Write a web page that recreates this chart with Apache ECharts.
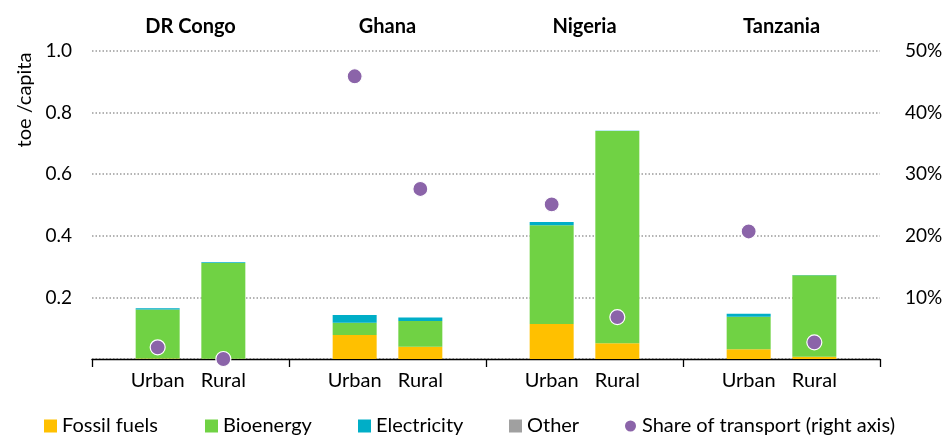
<!DOCTYPE html>
<html>
<head>
<meta charset="utf-8">
<script src="https://cdn.jsdelivr.net/npm/echarts@6/dist/echarts.min.js"></script>
<style>
  html, body { margin: 0; padding: 0; background: #fff; }
  #chart { width: 948px; height: 440px; }
</style>
</head>
<body>
<div id="chart"></div>
<script>
// slots: blank, Urban, Rural per country, then a closing blank
var categories = ['', 'Urban', 'Rural', '', 'Urban', 'Rural', '', 'Urban', 'Rural', '', 'Urban', 'Rural', '']
var countries = ['DR Congo', 'Ghana', 'Nigeria', 'Tanzania']

// toe/capita
var fossilFuels = ['-', 0.002, 0.001, '-', 0.078, 0.040, '-', 0.114, 0.051, '-', 0.032, 0.007, '-']
var bioenergy = ['-', 0.159, 0.311, '-', 0.040, 0.083, '-', 0.320, 0.689, '-', 0.105, 0.265, '-']
var electricity = ['-', 0.004, 0.002, '-', 0.025, 0.012, '-', 0.011, 0.001, '-', 0.010, 0.001, '-']
var other = ['-', 0, 0, '-', 0, 0, '-', 0, 0, '-', 0, 0, '-']
// share of transport, %
var transportShare = ['-', 1.9, 0, '-', 45.9, 27.6, '-', 25.1, 6.8, '-', 20.7, 2.7, '-']

var FONT = 'Lato'
var txt = { fontFamily: FONT, fontSize: 19, color: '#000' }

function legendAt(name, left, icon) {
  return {
    data: [name],
    left: left,
    top: 416,
    padding: 0,
    icon: icon,
    itemWidth: 13,
    itemHeight: 13,
    itemGap: 5,
    textStyle: { fontFamily: FONT, fontSize: 20, color: '#000' }
  }
}

function barSeries(name, data, color) {
  return {
    name: name,
    type: 'bar',
    stack: 'energy',
    barWidth: 44,
    itemStyle: { color: color },
    data: data
  }
}

var chart = echarts.init(document.getElementById('chart'))
chart.setOption({
  animation: false,
  grid: { left: 92, right: 68, top: 51, bottom: 81 },
  legend: [
    legendAt('Fossil fuels', 44, 'rect'),
    legendAt('Bioenergy', 205, 'rect'),
    legendAt('Electricity', 358, 'rect'),
    legendAt('Other', 509, 'rect'),
    legendAt('Share of transport (right axis)', 623, 'circle')
  ],
  graphic: [{
    type: 'text',
    x: 25,
    y: 100,
    rotation: Math.PI / 2,
    style: {
      text: 'toe /capita',
      font: '20px ' + FONT,
      fill: '#000',
      textAlign: 'center',
      textVerticalAlign: 'middle'
    }
  }],
  xAxis: [
    {
      type: 'category',
      data: categories,
      boundaryGap: false,
      axisLine: { lineStyle: { color: '#000', width: 1.3 } },
      axisTick: { show: false },
      axisLabel: Object.assign({ interval: 0, margin: 12 }, txt, { fontSize: 20 })
    },
    {
      // group separators under the axis
      type: 'category',
      data: countries,
      position: 'bottom',
      boundaryGap: true,
      axisLine: { show: false },
      axisTick: { show: true, length: 8, lineStyle: { color: '#000', width: 1.3 } },
      axisLabel: { show: false }
    },
    {
      type: 'category',
      data: countries,
      position: 'top',
      boundaryGap: true,
      axisLine: { show: false },
      axisTick: { show: false },
      axisLabel: { margin: 14, fontFamily: FONT, fontSize: 20, fontWeight: 'bold', color: '#000' }
    }
  ],
  yAxis: [
    {
      type: 'value',
      min: 0,
      max: 1,
      interval: 0.2,
      axisLine: { show: false },
      axisTick: { show: false },
      axisLabel: Object.assign({
        margin: 20,
        showMinLabel: false,
        formatter: function (v) { return v.toFixed(1) }
      }, txt),
      splitLine: { lineStyle: { color: '#9a9a9a', width: 1.5, type: [1.5, 2] } }
    },
    {
      type: 'value',
      min: 0,
      max: 50,
      interval: 10,
      position: 'right',
      axisLine: { show: false },
      axisTick: { show: false },
      axisLabel: Object.assign({
        margin: 25,
        showMinLabel: false,
        formatter: '{value}%'
      }, txt),
      splitLine: { show: false }
    }
  ],
  series: [
    barSeries('Fossil fuels', fossilFuels, '#FFC000'),
    barSeries('Bioenergy', bioenergy, '#70D244'),
    barSeries('Electricity', electricity, '#00AEC7'),
    barSeries('Other', other, '#A0A0A0'),
    {
      name: 'Share of transport (right axis)',
      type: 'scatter',
      yAxisIndex: 1,
      symbolSize: 15,
      itemStyle: { color: '#8B64A9', opacity: 1, borderColor: '#fff', borderWidth: 1.2 },
      z: 5,
      data: transportShare
    }
  ]
})
</script>
</body>
</html>
